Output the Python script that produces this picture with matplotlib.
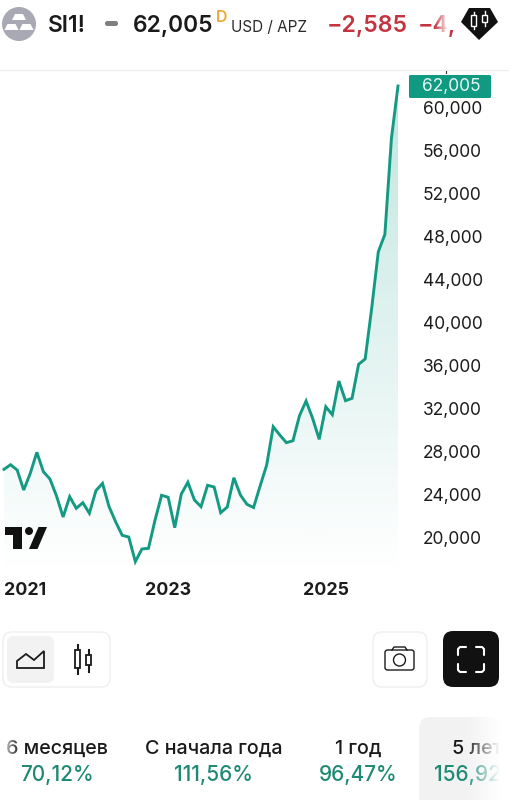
import numpy as np
import matplotlib
matplotlib.use('Agg')
import matplotlib.pyplot as plt
from matplotlib.patches import Circle, FancyBboxPatch, Polygon, Rectangle

plt.rcParams['font.family'] = ['Inter', 'DejaVu Sans']

# monthly closes, Dec 2020 - Dec 2025
prices = [26385, 26810, 26320, 24460, 26010, 27965, 26160, 25480, 23900, 21950,
          23840, 22760, 23280, 22300, 24400, 25080, 22910, 21510, 20250, 20090,
          17800, 18980, 19040, 21670, 23970, 23780, 20960, 24090, 25180, 23530,
          22910, 24900, 24740, 22350, 22880, 25600, 24000, 23130, 22830, 24830,
          26780, 30340, 29570, 28860, 29040, 31370, 32730, 31120, 29170, 32200,
          31460, 34590, 32760, 32980, 36140, 36640, 41380, 46600, 48220, 57150,
          62005]
y_ticks = [20000, 24000, 28000, 32000, 36000, 40000, 44000, 48000, 52000, 56000, 60000]
year_ticks = [3.2, 25, 49]
year_labels = ['2021', '2023', '2025']
last_price = '62,005'
change_abs = '−2,585'
change_pct = '−4,'
periods = ['6 месяцев', 'С начала года', '1 год']
period_values = ['70,12%', '111,56%', '96,47%']

TEAL = '#149a83'
W, H = 509, 800

fig = plt.figure(figsize=(W / 100, H / 100), dpi=100, facecolor='white')

# chart
ax = fig.add_axes([0, (H - 575) / H, 398 / W, 504 / H])
ax.set_xlim(-0.61, 60)
ax.set_ylim(16561, 63401)
for s in ax.spines.values():
    s.set_visible(False)

x = np.arange(len(prices))
line_fill = ax.fill_between(x, prices, 16561, color='none', lw=0)
grad = np.ones((256, 2, 4))
grad[:, :, :3] = matplotlib.colors.to_rgb('#089981')
grad[:, :, 3] = np.linspace(0.25, 0.0, 256)[:, None]
img = ax.imshow(grad, extent=[-0.61, 60, 16561, 62005], origin='upper', aspect='auto', zorder=1)
img.set_clip_path(line_fill.get_paths()[0], transform=ax.transData)
ax.plot(x, prices, color=TEAL, lw=2.1, solid_joinstyle='miter', zorder=3, clip_on=False)

ax.yaxis.tick_right()
ax.set_yticks(y_ticks)
ax.set_yticklabels([f'{v:,}' for v in y_ticks], fontsize=12.5, color='#1c1c1c')
ax.tick_params(axis='y', length=0, pad=18)
ax.set_xticks(year_ticks)
ax.set_xticklabels(year_labels, fontsize=12.8, fontweight='bold', color='#1c1c1c')
ax.tick_params(axis='x', length=0, pad=5)
ax.patch.set_alpha(0)

# interface around the chart, in pixel coordinates
ui = fig.add_axes([0, 0, 1, 1], zorder=5)
ui.set_xlim(0, W)
ui.set_ylim(H, 0)
ui.axis('off')


def rbox(x0, y0, x1, y1, r, fc, ec='none', lw=1.0, z=2):
    ui.add_patch(FancyBboxPatch((x0 + r, y0 + r), x1 - x0 - 2 * r, y1 - y0 - 2 * r,
                                boxstyle=f'round,pad={r},rounding_size={r}',
                                fc=fc, ec=ec, lw=lw, zorder=z))


def fade(x0, x1, y0, y1, left_to_right=True, z=6):
    g = np.ones((2, 64, 4))
    a = np.linspace(0, 1, 64)
    g[:, :, 3] = a if left_to_right else a[::-1]
    ui.imshow(g, extent=[x0, x1, y1, y0], aspect='auto', zorder=z)


# header
ui.add_patch(Circle((19, 24), 17, fc='#a9a9b6', ec='none'))
for bx, by in [(19, 17), (11.5, 27), (26.5, 27)]:
    ui.add_patch(Polygon([(bx - 4, by - 3), (bx + 4, by - 3), (bx + 7, by + 3), (bx - 7, by + 3)],
                         fc='white', ec='none', zorder=3))
ui.text(48, 26, 'SI1!', fontsize=16.4, fontweight='semibold', color='#1a1a1a', va='center')
rbox(105, 21, 118, 26, 2.4, '#7f7f7f')
ui.text(133, 26, last_price, fontsize=16.4, fontweight='semibold', color='#1a1a1a', va='center')
ui.text(216, 17, 'D', fontsize=11.5, fontweight='semibold', color='#e8a93c', va='center')
ui.text(231, 27.5, 'USD / APZ', fontsize=11, color='#2a2a2a', va='center')
ui.text(327, 26, change_abs, fontsize=16.6, fontweight='semibold', color='#c2343f', va='center')
ui.text(418, 26, change_pct, fontsize=16.6, fontweight='semibold', color='#c2343f', va='center')
fade(434, 449, 5, 45)
ui.add_patch(Polygon([(469, 8), (490, 8), (498, 22), (479, 40), (461, 22)], fc='#111111', ec='none'))
for cx, by0, by1, ly0, ly1 in [(474, 15, 26, 12, 29), (485, 15, 22, 11, 26)]:
    ui.plot([cx, cx], [ly0, ly1], color='white', lw=1.0, zorder=3)
    ui.add_patch(Rectangle((cx - 2.5, by0), 5, by1 - by0, fc='#111111', ec='white', lw=1.0, zorder=4))

ui.plot([0, W], [70, 70], color='#eeeeee', lw=1.0)
ui.plot([446, 446], [71, 73], color='#333333', lw=0.8)

# last price tag
rbox(409, 75, 491, 98, 1.5, '#109a82')
ui.text(451, 87, last_price, fontsize=12.5, color='#e8f6f3', ha='center', va='center', zorder=4)

# TV logo
ui.add_patch(Polygon([(5, 527), (22, 527), (22, 549), (13, 549), (13, 535), (5, 535)], fc='#111111', ec='none'))
ui.add_patch(Circle((29, 531), 4, fc='#111111', ec='none'))
ui.add_patch(Polygon([(38.5, 527), (47, 527), (37.5, 549), (29, 549)], fc='#111111', ec='none'))

# toolbar
rbox(3, 632, 110, 687, 9, 'white', ec='#eeeeee', lw=1.0)
rbox(7, 636, 54, 683, 7, '#f2f2f2', z=3)
ui.add_patch(Polygon([(17, 668), (17, 661), (26, 654), (34, 660), (44, 651), (44, 668)],
                     fc='none', ec='#1a1a1a', lw=1.3, zorder=4))
for cx, by0, by1, ly0, ly1 in [(78, 650, 668, 645, 674), (89, 655, 665, 650, 672)]:
    ui.plot([cx, cx], [ly0, ly1], color='#1a1a1a', lw=1.5, zorder=3)
    ui.add_patch(Rectangle((cx - 2.5, by0), 5, by1 - by0, fc='white', ec='#1a1a1a', lw=1.3, zorder=4))

rbox(373, 632, 427, 687, 9, 'white', ec='#eeeeee', lw=1.0)
rbox(385, 650, 414, 670, 2.5, 'none', ec='#1a1a1a', lw=1.0, z=4)
ui.plot([392, 394, 405, 407], [650, 647, 647, 650], color='#1a1a1a', lw=1.0, zorder=4)
ui.add_patch(Circle((399.5, 660), 6, fc='none', ec='#1a1a1a', lw=1.0, zorder=4))

rbox(443, 631, 499, 687, 10, '#111111')
for px, py, dx, dy in [(458, 647, 1, 1), (484, 647, -1, 1), (458, 672, 1, -1), (484, 672, -1, -1)]:
    ui.plot([px + dx * 8, px + dx * 2, px, px], [py, py, py + dy * 2, py + dy * 8],
            color='white', lw=1.5, zorder=4, solid_capstyle='round')

# period tabs
rbox(419, 717, 530, 830, 12, '#f2f2f2', z=1)
tab_x = [57, 214, 358]
for tx, name, val in zip(tab_x, periods, period_values):
    ui.text(tx, 749, name, fontsize=14.2, fontweight='medium', color='#1a1a1a', ha='center', va='center', zorder=3)
    ui.text(tx, 775, val, fontsize=15, fontweight='medium', color='#1f8a74', ha='center', va='center', zorder=3)
ui.text(452, 749, '5 лет', fontsize=14.2, fontweight='medium', color='#1a1a1a', va='center', zorder=3)
ui.text(434, 775, '156,92', fontsize=15, fontweight='medium', color='#1f8a74', va='center', zorder=3)
fade(0, 20, 730, 790, left_to_right=False)
fade(465, 500, 710, 800)
ui.add_patch(Rectangle((500, 700), 9, 100, fc='white', ec='none', zorder=7))
ui.set_xlim(0, W)
ui.set_ylim(H, 0)

fig.savefig('out.png', dpi=100)
plt.close()
